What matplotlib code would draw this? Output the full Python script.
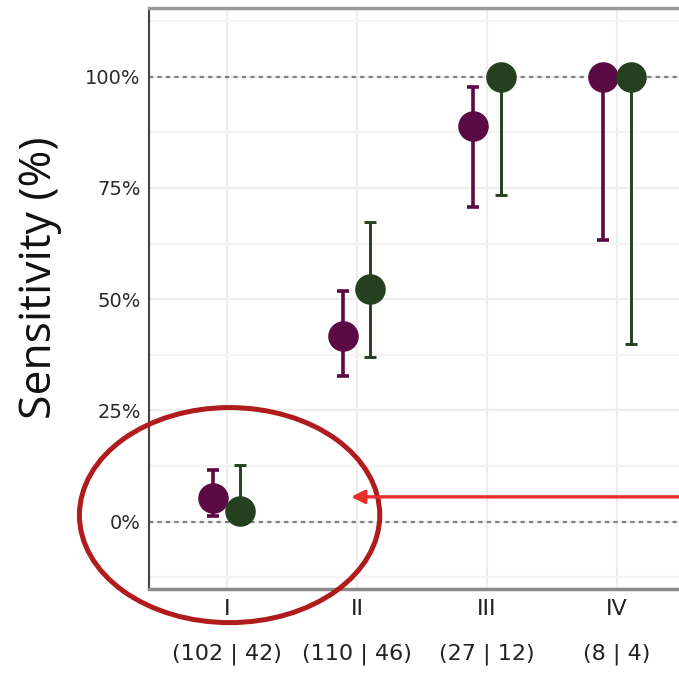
import matplotlib.pyplot as plt
import numpy as np
from matplotlib.patches import Ellipse

# stage labels with case counts (group A | group B)
stages = ["I", "II", "III", "IV"]
counts = ["(102 | 42)", "(110 | 46)", "(27 | 12)", "(8 | 4)"]

# sensitivity estimates and 95% CI, in %
purple_est = [5.3, 41.8, 89.0, 100.0]
purple_lo = [1.2, 32.8, 70.8, 63.2]
purple_hi = [11.6, 51.9, 97.7, 100.0]

green_est = [2.5, 52.3, 100.0, 100.0]
green_lo = [0.0, 37.0, 73.5, 40.0]
green_hi = [12.7, 67.4, 100.0, 100.0]

PURPLE = "#5c0a44"
GREEN = "#25401f"
DODGE = 0.104


def draw_series(ax, x, est, lo, hi, color, lw):
    est = np.array(est)
    yerr = [est - np.array(lo), np.array(hi) - est]
    ax.errorbar(x, est, yerr=yerr, fmt="none", ecolor=color,
                elinewidth=lw, capsize=4.5, capthick=lw, zorder=3)
    ax.plot(x, est, "o", color=color, markersize=22, markeredgewidth=0,
            zorder=4)


fig = plt.figure(figsize=(6.79, 6.73), dpi=100)
ax = fig.add_axes([0.2194, 0.1248, 0.7806, 0.864])

x = np.arange(1, len(stages) + 1)
draw_series(ax, x - DODGE, purple_est, purple_lo, purple_hi, PURPLE, 2.6)
draw_series(ax, x + DODGE, green_est, green_lo, green_hi, GREEN, 2.1)

# reference lines at 0% and 100%
for ref in (0, 100):
    ax.axhline(ref, color="#808080", lw=1.6, dashes=(1.9, 1.9), zorder=2)

ax.set_xlim(0.4, 4.477)
ax.set_ylim(-15.1, 115.5)

ax.set_yticks([0, 25, 50, 75, 100])
ax.set_yticklabels(["0%", "25%", "50%", "75%", "100%"])
ax.set_yticks([-12.5, 12.5, 37.5, 62.5, 87.5, 112.5], minor=True)
ax.set_xticks(x)
ax.set_xticklabels([s + "\n" + c for s, c in zip(stages, counts)],
                   linespacing=2.55)

ax.grid(True, which="major", color="#eeeeee", lw=1.6, zorder=0)
ax.grid(True, which="minor", axis="y", color="#f4f4f4", lw=1.6, zorder=0)
ax.set_axisbelow(True)

ax.tick_params(axis="both", which="both", length=0)
ax.tick_params(axis="y", pad=6, labelsize=14, labelcolor="#2a2a2a")
ax.tick_params(axis="x", pad=7, labelsize=16, labelcolor="#222222")
for lab in ax.get_xticklabels() + ax.get_yticklabels():
    lab.set_family(["DejaVu Sans"])

ax.spines["right"].set_visible(False)
ax.spines["left"].set_color("#444444")
ax.spines["left"].set_linewidth(1.5)
ax.spines["top"].set_color("#9a9a9a")
ax.spines["top"].set_linewidth(2.5)
ax.spines["bottom"].set_color("#8a8a8a")
ax.spines["bottom"].set_linewidth(2.5)

fig.text(0.058, 0.588, "Sensitivity (%)", rotation=90, ha="center",
         va="center", fontsize=32, family=["Open Sans", "DejaVu Sans"],
         color="#111111")

# highlight of stage I
ax.add_patch(Ellipse((1.02, 1.5), 2.31, 48.3, fill=False, edgecolor="#b01c1c",
                     lw=3.6, clip_on=False, zorder=5))
ax.annotate("", xy=(1.954, 5.6), xytext=(4.6, 5.6),
            arrowprops=dict(arrowstyle="-|>", color="#e8302a", lw=2.4,
                            mutation_scale=20, shrinkA=0, shrinkB=0),
            zorder=6, annotation_clip=False)

fig.savefig("out.png", dpi=100)
